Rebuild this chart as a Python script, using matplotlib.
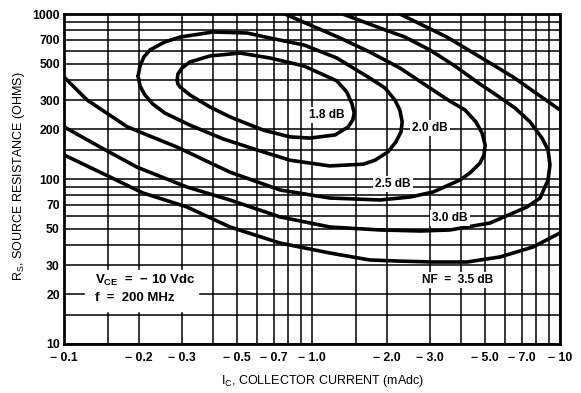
import matplotlib
matplotlib.use("Agg")
import matplotlib.pyplot as plt
from matplotlib import font_manager

# condensed bold look of the original if the narrow face is there
try:
    font_manager.findfont('Liberation Sans Narrow', fallback_to_default=False)
    FAM, TK, LB, VC, AX = 'Liberation Sans Narrow', 9.5, 9.5, 10.5, 9.5
except Exception:
    FAM, TK, LB, VC, AX = 'Liberation Sans', 8.8, 8.6, 9.5, 9
plt.rcParams['font.family'] = [FAM, 'DejaVu Sans']
plt.rcParams['mathtext.default'] = 'regular'

# ---- data (Ic in mA, Rs in ohms) ----
ic_18 = [0.286, 0.288, 0.299, 0.322, 0.388, 0.513, 0.677, 0.928, 1.26, 1.38, 1.45, 1.48, 1.46, 1.40, 1.24,
         0.98, 0.815, 0.634, 0.467, 0.388, 0.322, 0.294, 0.288, 0.286]
rs_18 = [398, 433, 471, 512, 557, 580, 541, 484, 393, 337, 285, 251, 228, 207, 185,
         177, 180, 198, 238, 273, 323, 361, 376, 398]

ic_20 = [0.199, 0.2025, 0.210, 0.222, 0.255, 0.294, 0.399, 0.547, 0.677, 0.928, 1.26, 1.71, 1.97, 2.16,
         2.26, 2.31, 2.285, 2.18, 2.025, 1.795, 1.61, 1.18, 0.815, 0.600, 0.438, 0.322, 0.255, 0.228,
         0.212, 0.2025, 0.199]
rs_20 = [421, 484, 549, 605, 677, 725, 778, 767, 715, 649, 541, 409, 356, 301,
         262, 222, 193, 168, 146, 130, 123, 120, 130, 150, 175, 212, 251, 285,
         323, 366, 421]

ic_25 = [0.1, 0.124, 0.180, 0.286, 0.467, 0.743, 1.18, 1.88, 2.49, 3.08, 3.95, 4.34, 4.76, 4.94, 4.99,
         4.85, 4.58, 4.14, 3.54, 2.99, 2.26, 1.71, 1.30, 0.981, 0.778]
rs_25 = [415, 301, 207, 156, 110, 85.8, 76.7, 74.6, 77.8, 83.4, 98.6, 109, 125, 140, 161,
         190, 222, 262, 301, 356, 471, 588, 715, 858, 1000]

ic_30 = [0.1, 0.140, 0.197, 0.313, 0.467, 0.743, 1.18, 1.88, 2.73, 3.6, 5.22, 7.36, 8.31, 8.95, 9.11,
         8.95, 8.46, 7.57, 6.59, 5.62, 4.76, 3.77, 2.99, 2.37, 1.88, 1.33]
rs_30 = [207, 156, 118, 89.4, 74.6, 58.9, 51.2, 49.1, 48.4, 49.1, 54.1, 67.7, 76.7, 98.6, 122,
         150, 177, 222, 269, 318, 376, 484, 605, 725, 822, 1000]

ic_35_lo = [0.1, 0.153, 0.208, 0.313, 0.467, 0.743, 1.18, 1.71, 2.26, 3.08, 4.22, 5.73, 7.78, 10]
rs_35_lo = [140, 103, 82.3, 67.7, 51.2, 40.9, 35.6, 32.3, 31.8, 31.4, 31.4, 33.7, 38.7, 47.1]
ic_35_hi = [2.26, 2.73, 3.50, 4.76, 6.47, 10]
rs_35_hi = [1000, 870, 725, 549, 415, 262]

x_grid = [0.1, 0.15, 0.2, 0.3, 0.4, 0.5, 0.6, 0.7, 0.8, 0.9, 1.0, 1.5, 2, 3, 4, 5, 6, 7, 8, 9, 10]
y_grid = [10, 15, 20, 30, 40, 50, 60, 70, 80, 90, 100, 150, 200, 300, 400, 500, 600, 700, 800, 900, 1000]
x_ticks = [0.1, 0.2, 0.3, 0.5, 0.7, 1.0, 2.0, 3.0, 5.0, 7.0, 10]
x_labels = ['\u2212 0.1', '\u2212 0.2', '\u2212 0.3', '\u2212 0.5', '\u2212 0.7', '\u2212 1.0',
            '\u2212 2.0', '\u2212 3.0', '\u2212 5.0', '\u2212 7.0', '\u2212 10']
y_ticks = [10, 20, 30, 50, 70, 100, 200, 300, 500, 700, 1000]

fig = plt.figure(figsize=(5.81, 3.93), dpi=100)
ax = fig.add_axes([64 / 581, 1 - 344 / 393, 496 / 581, 330 / 393])
ax.set_xscale('log')
ax.set_yscale('log')
ax.set_xlim(0.1, 10)
ax.set_ylim(10, 1000)

for gx in x_grid:
    ax.axvline(gx, color='black', lw=1.1, zorder=1)
for gy in y_grid:
    ax.axhline(gy, color='black', lw=1.1, zorder=1)

lw = 2.6
for xs, ys in [(ic_18, rs_18), (ic_20, rs_20), (ic_25, rs_25), (ic_30, rs_30),
               (ic_35_lo, rs_35_lo), (ic_35_hi, rs_35_hi)]:
    ax.plot(xs, ys, color='black', lw=lw, solid_joinstyle='round',
            solid_capstyle='round', zorder=3)

box = dict(facecolor='white', edgecolor='none', pad=1.5)
tkw = dict(fontsize=LB, fontweight='bold', ha='center', va='center', bbox=box, zorder=5)
ax.text(1.15, 244, '1.8 dB', **tkw)
ax.text(2.99, 204, '2.0 dB', **tkw)
ax.text(2.12, 93.3, '2.5 dB', **tkw)
ax.text(3.6, 58, '3.0 dB', **tkw)
ax.text(3.88, 24.4, 'NF  =  3.5 dB', **tkw)

# white panel behind the test conditions
ax.fill([0.1215, 0.347, 0.347, 0.1215], [15.8, 15.8, 28.1, 28.1], color='white', zorder=2)
ax.text(0.133, 24.4, 'V$_{CE}$  =  \u2212 10 Vdc', fontsize=VC, fontweight='bold',
        ha='left', va='center', zorder=5)
ax.text(0.133, 19.0, 'f  =  200 MHz', fontsize=VC, fontweight='bold',
        ha='left', va='center', zorder=5)

ax.set_xticks(x_ticks)
ax.set_xticklabels(x_labels)
ax.set_yticks(y_ticks)
ax.set_yticklabels([str(v) for v in y_ticks])
ax.minorticks_off()
ax.tick_params(length=0, labelsize=TK)
ax.tick_params(axis='x', pad=6)
ax.tick_params(axis='y', pad=3)
for lab in ax.get_xticklabels() + ax.get_yticklabels():
    lab.set_fontweight('bold')
for sp in ax.spines.values():
    sp.set_linewidth(2)

fig.text(323 / 581, 1 - 381 / 393, 'I$_C$, COLLECTOR CURRENT (mAdc)', fontsize=AX,
         ha='center', va='center')
fig.text(19 / 581, 1 - 176 / 393, 'R$_S$, SOURCE RESISTANCE (OHMS)', fontsize=AX,
         ha='center', va='center', rotation=90)

fig.savefig('out.png', dpi=100)
